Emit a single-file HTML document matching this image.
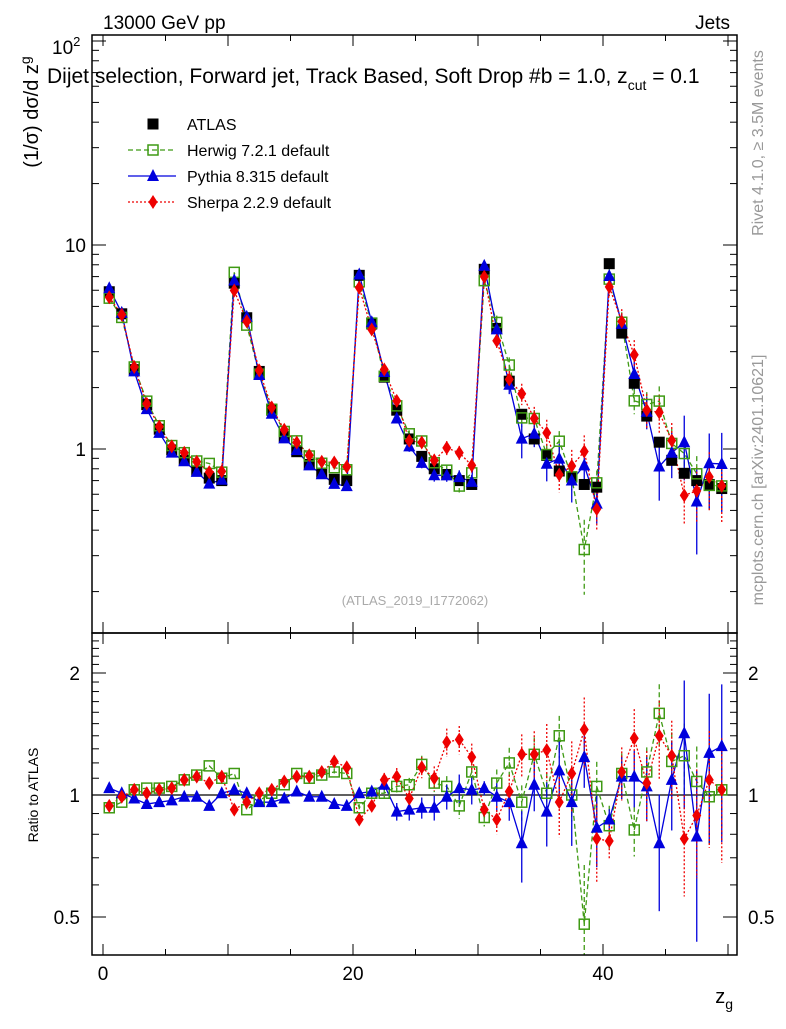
<!DOCTYPE html>
<html><head><meta charset="utf-8">
<style>
html,body{margin:0;padding:0;background:#fff;}
svg text{font-family:"Liberation Sans",sans-serif;}
</style></head>
<body>
<svg id="chart" width="786" height="1024" viewBox="0 0 786 1024" xmlns="http://www.w3.org/2000/svg">
<defs>
<clipPath id="clipMain"><rect x="92" y="35" width="645" height="598"/></clipPath>
<clipPath id="clipRatio"><rect x="92" y="633" width="645" height="322"/></clipPath>
</defs>
<text x="103" y="29" font-size="19">13000 GeV pp</text>
<text x="730" y="29" font-size="19" text-anchor="end">Jets</text>
<text x="47" y="83" font-size="21">Dijet selection, Forward jet, Track Based, Soft Drop #b = 1.0, z<tspan dy="7" font-size="14">cut</tspan><tspan dy="-7"> = 0.1</tspan></text>
<text transform="translate(38,112) rotate(-90)" font-size="20" text-anchor="middle">(1/σ) dσ/d z<tspan dy="-8" font-size="14">g</tspan></text>
<text transform="translate(38,795) rotate(-90)" font-size="14" text-anchor="middle">Ratio to ATLAS</text>
<text transform="translate(763,143) rotate(-90)" font-size="16" fill="#999" text-anchor="middle">Rivet 4.1.0, ≥ 3.5M events</text>
<text transform="translate(763,480) rotate(-90)" font-size="16" fill="#999" text-anchor="middle">mcplots.cern.ch [arXiv:2401.10621]</text>
<text x="415" y="605" font-size="13" fill="#aaa" text-anchor="middle">(ATLAS_2019_I1772062)</text>
<text x="733" y="1003" font-size="20" text-anchor="end">z<tspan dy="6" font-size="14">g</tspan></text>
<g id="axes"></g>
<g id="mainMarks" clip-path="url(#clipMain)"></g>
<g id="ratioMarks" clip-path="url(#clipRatio)"></g>
<rect x="92" y="35" width="645" height="598" fill="none" stroke="#000" stroke-width="1.5"/>
<rect x="92" y="633" width="645" height="322" fill="none" stroke="#000" stroke-width="1.5"/>
<g id="legend"></g>
</svg>
<script>
const bins = [];
for (let i = 0; i < 50; i++) bins.push(i + 0.5);
const atlasValues = [5.9,4.6,2.45,1.65,1.25,0.99,0.88,0.78,0.72,0.70,
 6.5,4.4,2.4,1.55,1.15,0.97,0.84,0.76,0.71,0.70,
 7.1,4.1,2.25,1.55,1.12,0.92,0.80,0.75,0.70,0.67,
 7.6,3.9,2.15,1.48,1.12,0.93,0.78,0.73,0.67,0.65,
 8.1,3.7,2.1,1.45,1.08,0.88,0.76,0.70,0.67,0.64];
const herwigRatio = [0.93,0.96,1.03,1.04,1.04,1.05,1.09,1.12,1.18,1.10,
 1.13,0.92,0.97,1.01,1.06,1.13,1.10,1.12,1.14,1.13,
 0.93,1.01,1.01,1.05,1.06,1.19,1.07,1.05,0.94,1.14,
 0.88,1.07,1.20,0.96,1.26,1.01,1.40,1.00,0.48,1.05,
 0.84,1.13,0.82,1.14,1.59,1.21,1.25,1.08,0.99,1.03];
const pythiaRatio = [1.04,1.01,0.98,0.95,0.96,0.97,0.99,0.99,0.94,1.01,
 1.03,1.01,0.96,0.96,0.98,1.02,0.99,0.99,0.95,0.94,
 1.01,1.02,1.06,0.91,0.92,0.93,0.93,0.99,1.04,1.03,
 1.04,0.99,0.96,0.76,1.06,0.91,1.15,0.96,1.24,0.83,
 0.87,1.11,1.11,1.05,0.76,1.09,1.42,0.79,1.27,1.32];
const sherpaRatio = [0.94,0.99,1.03,1.01,1.03,1.04,1.09,1.11,1.07,1.11,
 0.92,0.96,1.01,1.03,1.08,1.11,1.11,1.14,1.21,1.17,
 0.87,0.94,1.09,1.11,0.98,1.17,1.10,1.35,1.37,1.24,
 0.92,0.87,1.02,1.26,1.26,1.29,0.96,1.13,1.45,0.78,
 0.77,1.14,1.38,1.07,1.40,1.25,0.78,0.89,1.09,1.03];
const herwigErr = [0.01,0.01,0.01,0.01,0.01,0.01,0.01,0.01,0.01,0.01,
 0.01,0.01,0.01,0.01,0.01,0.01,0.01,0.02,0.02,0.02,
 0.02,0.03,0.03,0.04,0.04,0.05,0.05,0.06,0.07,0.07,
 0.05,0.08,0.09,0.10,0.10,0.12,0.12,0.14,0.40,0.15,
 0.12,0.12,0.14,0.15,0.18,0.18,0.20,0.22,0.24,0.25];
const pythiaErr = [0.01,0.01,0.01,0.01,0.01,0.01,0.01,0.01,0.01,0.01,
 0.01,0.01,0.01,0.01,0.01,0.01,0.01,0.02,0.02,0.02,
 0.02,0.03,0.03,0.05,0.06,0.06,0.07,0.07,0.08,0.08,
 0.04,0.08,0.10,0.20,0.14,0.18,0.18,0.22,0.16,0.20,
 0.06,0.12,0.16,0.18,0.32,0.25,0.35,0.45,0.40,0.42];
const sherpaErr = [0.01,0.01,0.01,0.01,0.01,0.01,0.01,0.01,0.01,0.01,
 0.01,0.01,0.01,0.01,0.01,0.01,0.01,0.02,0.02,0.02,
 0.02,0.03,0.04,0.05,0.05,0.06,0.07,0.08,0.08,0.08,
 0.04,0.08,0.10,0.12,0.14,0.16,0.18,0.20,0.20,0.22,
 0.10,0.15,0.18,0.20,0.22,0.22,0.28,0.30,0.32,0.34];
const xTicks = [0,20,40];
const mainTickLabels = ["1","10"];
const ratioTickValues = [0.5,1,2];
const ratioTickLabels = ["0.5","1","2"];

const NS = "http://www.w3.org/2000/svg";
function xs(v){ return 103 + 12.5*v; }
function ym(v){ return 449 - 204*Math.log10(v); }
function yr(r){ return 795 - 122*Math.log2(r); }
function mk(tag, attrs, parent){
  const e = document.createElementNS(NS, tag);
  for (const k in attrs) e.setAttribute(k, attrs[k]);
  parent.appendChild(e);
  return e;
}
const axes = document.getElementById('axes');
const mainG = document.getElementById('mainMarks');
const ratioG = document.getElementById('ratioMarks');
const legend = document.getElementById('legend');

for (let v = 0; v <= 50; v += 5) {
  const len = (v % 10 === 0) ? 11 : 6;
  const x = xs(v);
  for (const [yb, yt] of [[633, 35], [955, 633]]) {
    const t1 = mk('line', {x1:x, x2:x, y1:yb, y2:yb-len, stroke:'#000', 'stroke-width':1}, axes);
    
    
    const t2 = mk('line', {x1:x, x2:x, y1:yt, y2:yt+len, stroke:'#000', 'stroke-width':1}, axes);
    
    
  }
}
xTicks.forEach(v => {
  const t = mk('text', {x:xs(v), y:980, 'font-size':19, 'text-anchor':'middle'}, axes);
  t.textContent = String(v);
  
  
});
for (let d = 0.1; d <= 100; d *= 10) {
  for (let m = 1; m <= 9; m++) {
    const v = d*m;
    const y = ym(v);
    if (y < 35 || y > 633) continue;
    const len = m === 1 ? 14 : 7;
    const t = mk('line', {x1:92, x2:92+len, y1:y, y2:y, stroke:'#000', 'stroke-width':1}, axes);
    
    
    const t2 = mk('line', {x1:737, x2:737-len, y1:y, y2:y, stroke:'#000', 'stroke-width':1}, axes);
    
    
  }
}
[1,10].forEach((v,i) => {
  const t = mk('text', {x:86, y:ym(v)+7, 'font-size':19, 'text-anchor':'end'}, axes);
  t.textContent = mainTickLabels[i];
  
  
});
{
  const t = mk('text', {x:52, y:ym(100)+13, 'font-size':19}, axes);
  t.innerHTML = '10<tspan dy="-8" font-size="13">2</tspan>';
  
  
}
for (let r = 0.4; r <= 2.5; r += 0.1) {
  const y = yr(r);
  if (y < 633 || y > 955) continue;
  const major = Math.abs(r-0.5)<1e-6 || Math.abs(r-1)<1e-6 || Math.abs(r-2)<1e-6;
  const len = major ? 14 : 7;
  const t = mk('line', {x1:92, x2:92+len, y1:y, y2:y, stroke:'#000', 'stroke-width':1}, axes);
  
  
  const t2 = mk('line', {x1:737, x2:737-len, y1:y, y2:y, stroke:'#000', 'stroke-width':1}, axes);
  
  
}
ratioTickValues.forEach((v,i) => {
  const t = mk('text', {x:80, y:yr(v)+7, 'font-size':19, 'text-anchor':'end'}, axes);
  t.textContent = ratioTickLabels[i];
  
  
  const t2 = mk('text', {x:748, y:yr(v)+7, 'font-size':19}, axes);
  t2.textContent = ratioTickLabels[i];
  
  
});
{
  const l = mk('line', {x1:92, x2:737, y1:yr(1), y2:yr(1), stroke:'#000', 'stroke-width':1.2}, ratioG);
  
  
}

function marker(g, kind, x, y, color, name) {
  let e;
  if (kind === 'sq') e = mk('rect', {x:x-5.5, y:y-5.5, width:11, height:11, fill:'#000'}, g);
  else if (kind === 'osq') e = mk('rect', {x:x-5, y:y-5, width:10, height:10, fill:'none', stroke:color, 'stroke-width':1.5}, g);
  else if (kind === 'tri') e = mk('polygon', {points:`${x},${y-7} ${x-6},${y+5} ${x+6},${y+5}`, fill:color}, g);
  else e = mk('polygon', {points:`${x},${y-7} ${x-4.5},${y} ${x},${y+7} ${x+4.5},${y}`, fill:color}, g);
  
  
}

const series = [
  {name:'herwig', ratio:herwigRatio, err:herwigErr, color:'#3f9a14', dash:'5,3', kind:'osq'},
  {name:'pythia', ratio:pythiaRatio, err:pythiaErr, color:'#0000dd', dash:'', kind:'tri'},
  {name:'sherpa', ratio:sherpaRatio, err:sherpaErr, color:'#ee0000', dash:'2,2', kind:'dia'}
];
series.forEach(s => {
  const vals = s.ratio.map((r,i) => r*atlasValues[i]);
  const ptsM = vals.map((v,i) => `${xs(bins[i])},${ym(v)}`).join(' ');
  const ptsR = s.ratio.map((r,i) => `${xs(bins[i])},${yr(r)}`).join(' ');
  const lm = mk('polyline', {points:ptsM, fill:'none', stroke:s.color, 'stroke-width':1.3, 'stroke-dasharray':s.dash}, mainG);
  
  
  const lr = mk('polyline', {points:ptsR, fill:'none', stroke:s.color, 'stroke-width':1.3, 'stroke-dasharray':s.dash}, ratioG);
  
  
  vals.forEach((v,i) => {
    const x = xs(bins[i]);
    const e = s.err[i];
    if (e > 0.015) {
      const eb = mk('line', {x1:x, x2:x, y1:ym(v*(1+e)), y2:ym(v*Math.max(0.05,1-e)), stroke:s.color, 'stroke-width':1.3, 'stroke-dasharray':s.dash}, mainG);
      
      
      const r = s.ratio[i];
      const er = mk('line', {x1:x, x2:x, y1:yr(r*(1+e)), y2:yr(r*Math.max(0.05,1-e)), stroke:s.color, 'stroke-width':1.3, 'stroke-dasharray':s.dash}, ratioG);
      
      
    }
  });
});
atlasValues.forEach((v,i) => marker(mainG, 'sq', xs(bins[i]), ym(v), '#000', 'atlas-point'));
series.forEach(s => {
  s.ratio.forEach((r,i) => {
    marker(mainG, s.kind, xs(bins[i]), ym(r*atlasValues[i]), s.color, s.name + '-point');
    marker(ratioG, s.kind, xs(bins[i]), yr(r), s.color, s.name + '-ratio-point');
  });
});

const legItems = [
  {label:'ATLAS', kind:'sq', color:'#000', dash:null, y:124},
  {label:'Herwig 7.2.1 default', kind:'osq', color:'#3f9a14', dash:'5,3', y:150},
  {label:'Pythia 8.315 default', kind:'tri', color:'#0000dd', dash:'', y:176},
  {label:'Sherpa 2.2.9 default', kind:'dia', color:'#ee0000', dash:'2,2', y:202}
];
legItems.forEach(it => {
  const g = mk('g', {}, legend);
  
  
  if (it.dash !== null) {
    const l = mk('line', {x1:128, x2:176, y1:it.y, y2:it.y, stroke:it.color, 'stroke-width':1.3, 'stroke-dasharray':it.dash}, g);
    
    
  }
  marker(g, it.kind, 153, it.y, it.color, 'legend-marker');
  const t = mk('text', {x:187, y:it.y+6, 'font-size':16}, g);
  t.textContent = it.label;
  
  
});
</script>
</body></html>
